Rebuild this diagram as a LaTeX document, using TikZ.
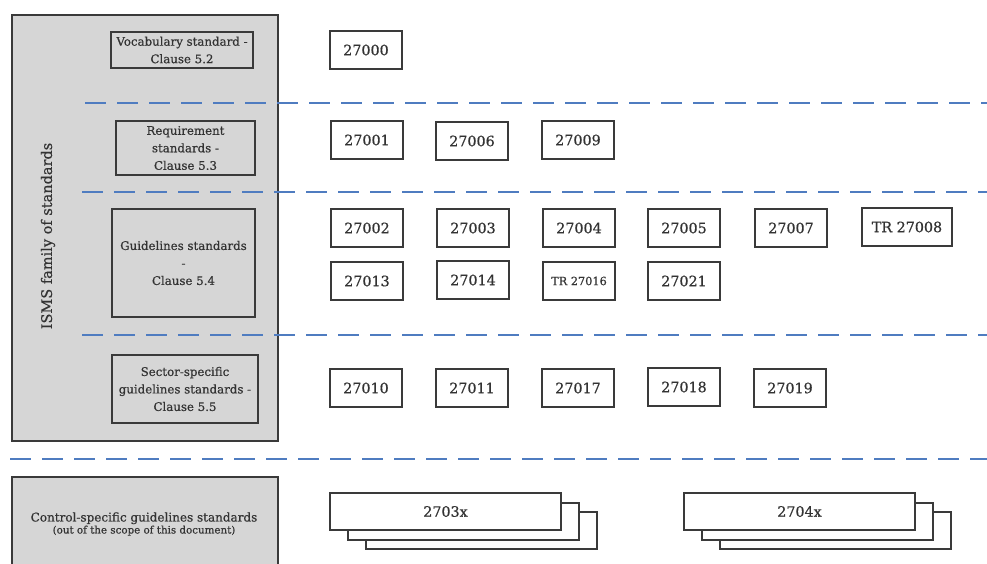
\documentclass[tikz,border=0pt]{standalone}
\usepackage{fontspec}
\setmainfont{DejaVu Serif}[FakeBold=0.6]
\definecolor{grayfill}{HTML}{D6D6D6}
\definecolor{boxline}{HTML}{3A3A3A}
\definecolor{txt}{HTML}{333333}
\definecolor{sepblue}{HTML}{4F7CC0}
\tikzset{
  grp/.style={draw=boxline, fill=grayfill, line width=1.6pt},
  cat/.style={draw=boxline, fill=grayfill, line width=1.4pt, align=center,
    font=\fontsize{11.8}{17.5}\selectfont, text=txt, inner sep=0pt},
  num/.style={draw=boxline, fill=white, line width=1.4pt, minimum width=72pt,
    minimum height=38pt, font=\fontsize{14.3}{18}\selectfont, text=txt, inner sep=0pt},
  stackbox/.style={draw=boxline, fill=white, line width=1.4pt, minimum width=231pt,
    minimum height=37pt, font=\fontsize{14.3}{18}\selectfont, text=txt, inner sep=0pt},
  dashsep/.style={draw=sepblue, line width=2.6pt, dash pattern=on 21pt off 11pt},
}
\begin{document}
\begin{tikzpicture}[x=1pt,y=-1pt]
\useasboundingbox (0,0) rectangle (987,563);
\clip (0,0) rectangle (987,563);
\fill[white] (0,0) rectangle (987,563);
% left group boxes
\draw[grp] (12,15) rectangle (278,441);
\draw[grp] (12,477) rectangle (278,590);
\node[rotate=90, font=\fontsize{14.5}{18}\selectfont, text=txt] (isms) at (48,236) {ISMS family of standards};
\node[text=txt, align=center, font=\fontsize{12}{14}\selectfont] (ctrl) at (144,524)
  {Control-specific guidelines standards\\[-2pt]{\fontsize{10.3}{12}\selectfont (out of the scope of this document)}};
% category boxes
\node[cat, minimum width=142pt, minimum height=36pt] (voc) at (182,50) {Vocabulary standard -\\Clause 5.2};
\node[cat, minimum width=139pt, minimum height=54pt] (req) at (185.5,148) {Requirement\\standards -\\Clause 5.3};
\node[cat, minimum width=143pt, minimum height=108pt] (gui) at (183.5,263) {Guidelines standards\\-\\Clause 5.4};
\node[cat, minimum width=146pt, minimum height=68pt] (sec) at (185,389) {Sector-specific\\guidelines standards -\\Clause 5.5};
% dashed separators
\coordinate (d1a) at (85,103);  \coordinate (d1b) at (987,103);
\coordinate (d2a) at (82,192);  \coordinate (d2b) at (987,192);
\coordinate (d3a) at (82,335);  \coordinate (d3b) at (987,335);
\coordinate (d4a) at (10,459);  \coordinate (d4b) at (987,459);
\draw[dashsep] (d1a) -- (d1b);
\draw[dashsep] (d2a) -- (d2b);
\draw[dashsep] (d3a) -- (d3b);
\draw[dashsep] (d4a) -- (d4b);
% number boxes
\node[num] (n27000) at (366,50) {27000};
\node[num] (n27001) at (367,140) {27001};
\node[num] (n27006) at (472,141) {27006};
\node[num] (n27009) at (578,140) {27009};
\node[num] (n27002) at (367,228) {27002};
\node[num] (n27003) at (473,228) {27003};
\node[num] (n27004) at (579,228) {27004};
\node[num] (n27005) at (684,228) {27005};
\node[num] (n27007) at (791,228) {27007};
\node[num, minimum width=90pt] (n27008) at (907,227) {TR 27008};
\node[num] (n27013) at (367,281) {27013};
\node[num] (n27014) at (473,280) {27014};
\node[num, font=\fontsize{11.3}{15}\selectfont] (n27016) at (579,281) {TR 27016};
\node[num] (n27021) at (684,281) {27021};
\node[num] (n27010) at (366,388) {27010};
\node[num] (n27011) at (472,388) {27011};
\node[num] (n27017) at (578,388) {27017};
\node[num] (n27018) at (684,387) {27018};
\node[num] (n27019) at (790,388) {27019};
% stacked boxes
\node[stackbox] (s3c) at (481.5,530.5) {};
\node[stackbox] (s3b) at (463.5,521.5) {};
\node[stackbox] (s3a) at (445.5,511.5) {2703x};
\node[stackbox] (s4c) at (835.5,530.5) {};
\node[stackbox] (s4b) at (817.5,521.5) {};
\node[stackbox] (s4a) at (799.5,511.5) {2704x};
\end{tikzpicture}
\end{document}
